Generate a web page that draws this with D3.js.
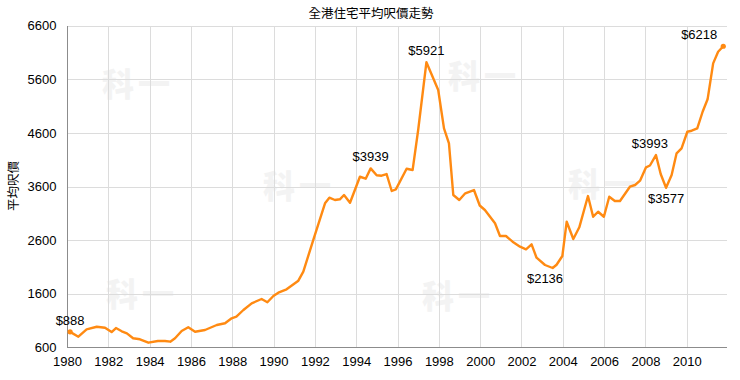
<!DOCTYPE html>
<html>
<head>
<meta charset="utf-8">
<script src="https://cdn.jsdelivr.net/npm/d3@7"></script>
<style>
  html, body { margin: 0; padding: 0; background: #fff; }
  svg { display: block; }
</style>
</head>
<body>
<svg id="chart" width="740" height="380"></svg>
<script>
// ---- data ----
const title = "全港住宅平均呎價走勢";
const yTitle = "平均呎價";
const years = [
  1980.15, 1980.55, 1980.95, 1981.44, 1981.84, 1982.16, 1982.37, 1982.65, 1982.9, 1983.2,
  1983.53, 1983.94, 1984.4, 1984.74, 1985.0, 1985.23, 1985.55, 1985.87, 1986.2, 1986.68,
  1987.25, 1987.65, 1987.97, 1988.2, 1988.54, 1988.94, 1989.42, 1989.7, 1989.99, 1990.23,
  1990.63, 1991.2, 1991.44, 1991.92, 1992.49, 1992.7, 1992.97, 1993.21, 1993.41, 1993.7,
  1994.18, 1994.46, 1994.7, 1994.99, 1995.23, 1995.47, 1995.72, 1995.92, 1996.44, 1996.73,
  1997.0, 1997.4, 1997.97, 1998.25, 1998.49, 1998.7, 1998.99, 1999.28, 1999.7, 1999.98,
  2000.23, 2000.72, 2000.96, 2001.25, 2001.57, 2001.93, 2002.22, 2002.49, 2002.73, 2003.14,
  2003.51, 2003.7, 2003.98, 2004.19, 2004.51, 2004.8, 2005.22, 2005.47, 2005.71, 2005.99,
  2006.25, 2006.52, 2006.77, 2007.25, 2007.5, 2007.74, 2008.03, 2008.22, 2008.51, 2008.74,
  2009.0, 2009.27, 2009.51, 2009.75, 2010.03, 2010.24, 2010.51, 2010.77, 2011.01, 2011.28,
  2011.52, 2011.77
];
const prices = [
  888, 798, 936, 984, 966, 885, 960, 899, 861, 768,
  750, 686, 718, 718, 705, 768, 904, 973, 891, 923,
  1016, 1048, 1141, 1171, 1296, 1421, 1501, 1440, 1557, 1619,
  1682, 1843, 2011, 2602, 3287, 3392, 3349, 3362, 3442, 3298,
  3783, 3746, 3939, 3810, 3802, 3834, 3517, 3548, 3933, 3908,
  4655, 5921, 5401, 4686, 4407, 3442, 3349, 3474, 3535, 3246,
  3162, 2914, 2677, 2677, 2571, 2477, 2429, 2522, 2272, 2136,
  2080, 2140, 2304, 2944, 2621, 2839, 3423, 3037, 3130, 3037,
  3410, 3330, 3330, 3597, 3629, 3709, 3959, 3993, 4188, 3834,
  3577, 3815, 4220, 4313, 4623, 4642, 4686, 4996, 5228, 5899,
  6116, 6218
];
// points that carry a value label
const labelYears = [1980.15, 1994.7, 1997.4, 2003.14, 2008.22, 2009.0, 2011.77];
const labelBelowYears = [2003.14, 2009.0];
const xTicks = [1980, 1982, 1984, 1986, 1988, 1990, 1992, 1994, 1996, 1998, 2000, 2002, 2004, 2006, 2008, 2010];
const yTicks = [600, 1600, 2600, 3600, 4600, 5600, 6600];
const watermarkText = "科一";

// ---- layout ----
const W = 740, H = 380;
const L = 67, R = 727, T = 25.8, B = 347.3;
const svg = d3.select("#chart");
const x = d3.scaleLinear().domain([1980, 2011.95]).range([L, R]);
const y = d3.scaleLinear().domain([600, 6600]).range([B, T]);
const font = "'Liberation Sans', Arial, sans-serif";
const cjk = "'Noto Sans CJK TC', 'Noto Sans CJK SC', sans-serif";

// watermark
const wm = [[102, 96], [448, 88], [263, 198], [568, 196], [106, 306], [422, 308]];
svg.append("g").selectAll("text").data(wm).join("text")
  .attr("x", d => d[0]).attr("y", d => d[1])
  .attr("font-family", cjk).attr("font-weight", 900).attr("font-size", 32)
  .attr("fill", "#f3f3f3").attr("letter-spacing", 4)
  .text(watermarkText);

// gridlines
const grid = svg.append("g").attr("stroke", "#dcdcdc").attr("stroke-width", 1).attr("shape-rendering", "crispEdges");
grid.selectAll("line.v").data(xTicks.filter(t => t > 1980)).join("line")
  .attr("x1", d => Math.round(x(d)) + 0.5).attr("x2", d => Math.round(x(d)) + 0.5)
  .attr("y1", T).attr("y2", B);
grid.selectAll("line.h").data(yTicks.filter(t => t > 600)).join("line")
  .attr("class", "h")
  .attr("x1", L).attr("x2", R)
  .attr("y1", d => Math.round(y(d)) + 0.5).attr("y2", d => Math.round(y(d)) + 0.5);

// axes
const xAxis = svg.append("g").attr("transform", `translate(0,${Math.round(B) + 0.5})`)
  .call(d3.axisBottom(x).tickValues(xTicks).tickFormat(d3.format("d")).tickSize(0).tickPadding(9));
const yAxis = svg.append("g").attr("transform", `translate(${L + 0.5},0)`)
  .call(d3.axisLeft(y).tickValues(yTicks).tickFormat(d3.format("d")).tickSize(0).tickPadding(11));
[xAxis, yAxis].forEach(a => {
  a.select(".domain").attr("stroke", "#8c8c8c").attr("shape-rendering", "crispEdges");
  a.selectAll("text").attr("font-family", font).attr("font-size", 13).attr("fill", "#000");
});
xAxis.select(".domain").attr("d", `M${L},0H${R}`);
yAxis.select(".domain").attr("d", `M0,${T}V${B}`);

// title + axis title
svg.append("text").attr("x", 371).attr("y", 18).attr("text-anchor", "middle")
  .attr("font-family", cjk).attr("font-size", 12.5).attr("fill", "#000").text(title);
svg.append("text").attr("transform", "translate(18,186) rotate(-90)").attr("text-anchor", "middle")
  .attr("font-family", cjk).attr("font-size", 12.5).attr("fill", "#000").text(yTitle);

// line
const data = years.map((yr, i) => ({ yr, v: prices[i] }));
const line = d3.line().x(d => x(d.yr)).y(d => y(d.v));
svg.append("path").datum(data).attr("d", line)
  .attr("fill", "none").attr("stroke", "#ff8a12").attr("stroke-width", 2.4)
  .attr("stroke-linejoin", "round").attr("stroke-linecap", "round");
svg.selectAll("circle.end").data([data[0], data[data.length - 1]]).join("circle")
  .attr("cx", d => x(d.yr)).attr("cy", d => y(d.v)).attr("r", 2.6).attr("fill", "#ff8a12");

// value labels: kept clear of the neighbouring points
function labelY(d) {
  const i = data.indexOf(d);
  const nb = data.slice(Math.max(0, i - 1), i + 2).map(p => p.v);
  if (labelBelowYears.includes(d.yr)) return y(Math.min(...nb)) + 15;
  return y(Math.max(...nb)) - 7;
}
const lbl = data.filter(d => labelYears.includes(d.yr));
svg.append("g").selectAll("text").data(lbl).join("text")
  .attr("x", d => x(d.yr) + (d === data[data.length - 1] ? -6 : 0))
  .attr("y", labelY)
  .attr("text-anchor", d => d === data[data.length - 1] ? "end" : "middle")
  .attr("font-family", font).attr("font-size", 13).attr("fill", "#000")
  .text(d => "$" + d.v);
</script>
</body>
</html>
